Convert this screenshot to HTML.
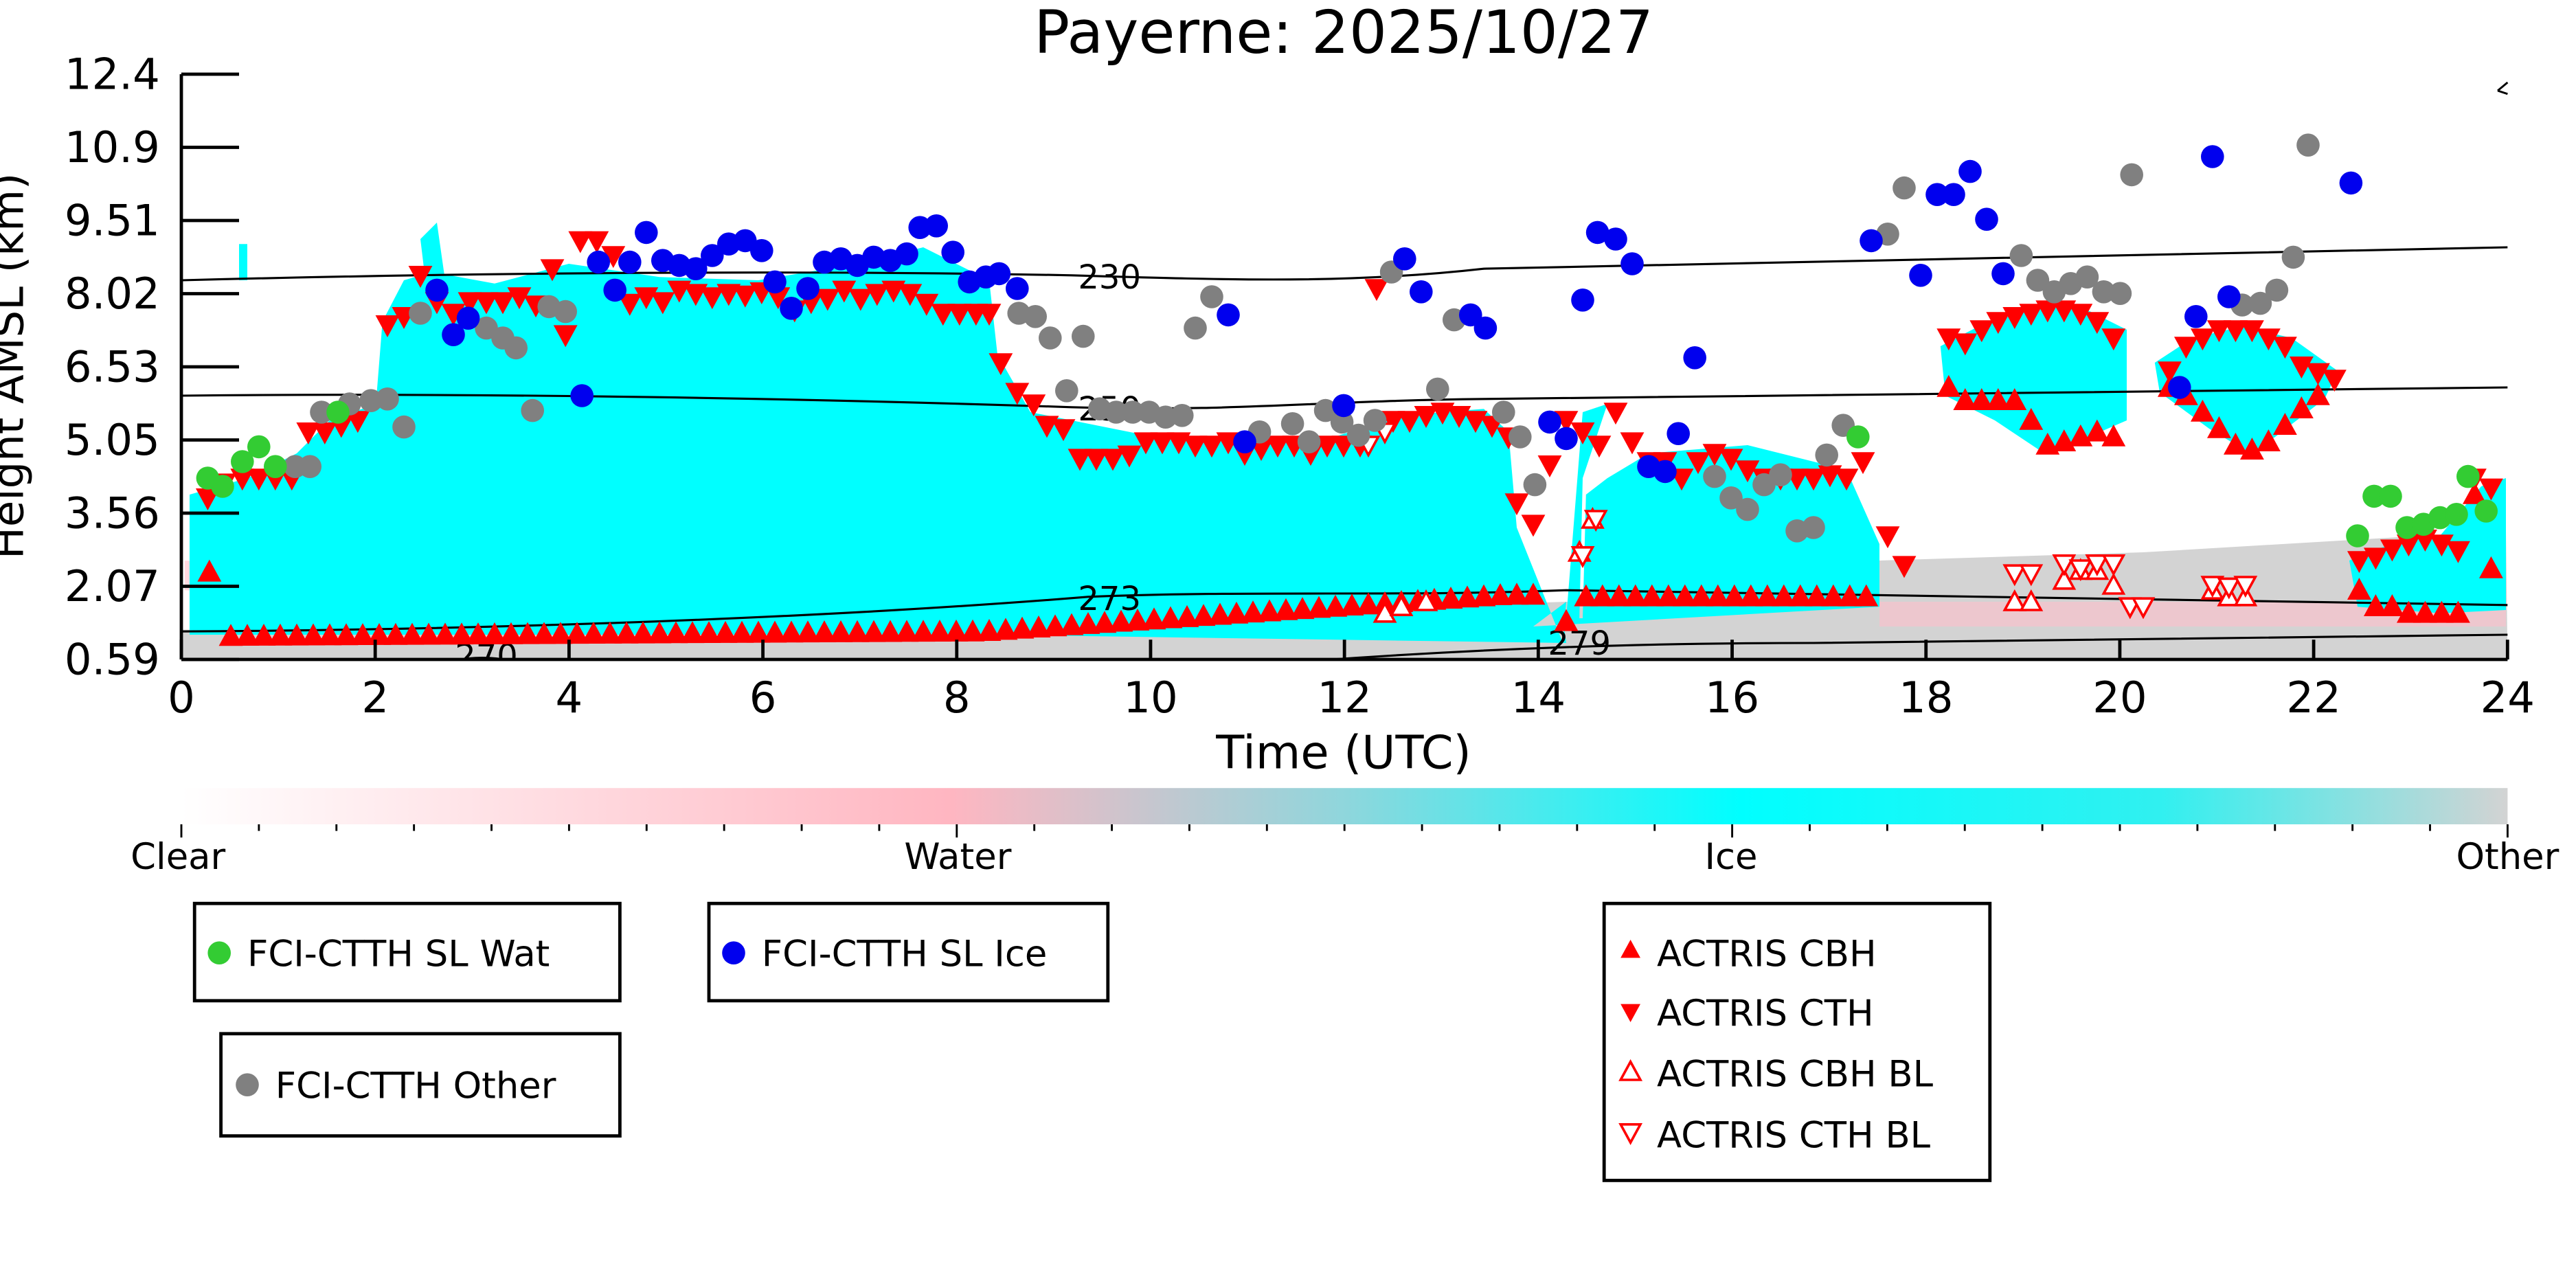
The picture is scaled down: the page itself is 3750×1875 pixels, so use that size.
<!DOCTYPE html>
<html><head><meta charset="utf-8">
<style>
html,body{margin:0;padding:0;background:#fff;}
svg{display:block;}
text{font-family:"DejaVu Sans","Liberation Sans",sans-serif;}
</style></head>
<body>
<svg id="s" width="3750" height="1875" viewBox="0 0 1562.5 781.25" xmlns="http://www.w3.org/2000/svg">
<defs>
<linearGradient id="cb" x1="0" x2="1" y1="0" y2="0">
<stop offset="0" stop-color="#ffffff"/>
<stop offset="0.33" stop-color="#ffb6c1"/>
<stop offset="0.5" stop-color="#8fd6dc"/>
<stop offset="0.67" stop-color="#00ffff"/>
<stop offset="0.85" stop-color="#30f0f0"/>
<stop offset="1" stop-color="#d3d3d3"/>
</linearGradient>
<clipPath id="pc"><rect x="110" y="45" width="1411" height="355"/></clipPath>
</defs>
<text x="815" y="32" font-size="36" text-anchor="middle">Payerne: 2025/10/27</text>
<g clip-path="url(#pc)" id="plot">
<polygon fill="#d3d3d3" points="110,382 400,382 660,375 800,370 950,365 1140,362 1140,340 1300,335 1520,322 1521,400 110,400"/>
<polygon fill="#ffc0cb" opacity="0.6" points="1140,365 1520,365 1520,380 1140,380"/>
<polygon fill="#ffc0cb" opacity="0.6" points="112,340 200,345 200,360 112,358"/>
<polygon fill="#00ffff" points="115,385 115,300 150,290 180,275 200,255 228,245 232,195 245,170 262,165 300,172 345,160 400,168 460,170 520,160 560,150 600,170 605,215 625,250 700,265 800,268 850,252 900,248 915,262 920,320 948,390 950,365 930,380 1140,368 1140,330 1120,285 1060,270 1000,275 975,290 962,300 960,375 948,375 950,390 600,385 400,385 250,385"/>
<polygon fill="#00ffff" points="950,375 960,250 975,245 960,290 958,375"/>
<polygon fill="#00ffff" points="1177,210 1200,198 1230,188 1260,185 1290,200 1290,255 1260,268 1240,275 1210,255 1180,240"/>
<polygon fill="#00ffff" points="1307,220 1330,205 1360,198 1390,205 1418,225 1410,242 1380,265 1365,275 1340,260 1310,238"/>
<polygon fill="#00ffff" points="1425,340 1450,330 1480,325 1505,295 1520,290 1520,370 1480,372 1430,368"/>
<polygon fill="#00ffff" points="255,145 265,135 270,170 258,170"/>
<polygon fill="#00ffff" points="145,148 150,148 150,170 145,170"/>
<g fill="none" stroke="#000" stroke-width="1.3">
<path d="M110,170 C300,165 500,164 650,167 C750,170 820,172 900,163 C1100,158 1300,155 1521,150"/>
<path d="M110,240 C300,238 500,242 650,247 C750,250 800,243 900,242 C1100,240 1300,238 1521,235"/>
<path d="M110,383 C300,382 500,375 660,362 C760,358 850,362 950,358 C1100,360 1300,365 1521,367"/>
<path d="M780,402 C900,393 1000,390 1100,390 C1300,388 1450,386 1521,385"/>
<path d="M270,402 C285,398 300,398 315,402"/>
</g>
<text x="673" y="175" font-size="20" text-anchor="middle">230</text>
<text x="673" y="255" font-size="20" text-anchor="middle">250</text>
<text x="673" y="370" font-size="20" text-anchor="middle">273</text>
<text x="958" y="397" font-size="20" text-anchor="middle">279</text>
<text x="295" y="405" font-size="20" text-anchor="middle">270</text>
<g id="pts"></g>
</g>
<g stroke="#000" stroke-width="2" fill="none">
<line x1="110" y1="45" x2="110" y2="400"/>
<line x1="110" y1="400" x2="1521" y2="400"/>
</g>
<g id="ax"></g>
<text x="815" y="466" font-size="28" text-anchor="middle">Time (UTC)</text>
<text transform="translate(14,222) rotate(-90)" font-size="26" text-anchor="middle">Height AMSL (km)</text>
<path d="M1515,55 l6,-5 M1515,55 l6,2" stroke="#000" stroke-width="1.2"/>
<rect x="110" y="478" width="1411" height="22" fill="url(#cb)"/>
<g id="cbt"></g>
<text x="108" y="527" font-size="22" text-anchor="middle">Clear</text>
<text x="581" y="527" font-size="22" text-anchor="middle">Water</text>
<text x="1050" y="527" font-size="22" text-anchor="middle">Ice</text>
<text x="1521" y="527" font-size="22" text-anchor="middle">Other</text>
<g stroke="#000" stroke-width="2" fill="#fff">
<rect x="118" y="548" width="258" height="59"/>
<rect x="430" y="548" width="242" height="59"/>
<rect x="134" y="627" width="242" height="62"/>
<rect x="973" y="548" width="234" height="168"/>
</g>
<circle cx="133" cy="578" r="7" fill="#33cc33"/><text x="150" y="586" font-size="22">FCI-CTTH SL Wat</text>
<circle cx="445" cy="578" r="7" fill="#0000ee"/><text x="462" y="586" font-size="22">FCI-CTTH SL Ice</text>
<circle cx="150" cy="658" r="7" fill="#808080"/><text x="167" y="666" font-size="22">FCI-CTTH Other</text>
<polygon points="989,570 995,581 983,581" fill="#f00"/><text x="1005" y="586" font-size="22">ACTRIS CBH</text>
<polygon points="983,609 995,609 989,620" fill="#f00"/><text x="1005" y="622" font-size="22">ACTRIS CTH</text>
<polygon points="989,644 995,655 983,655" fill="none" stroke="#f00" stroke-width="1.5"/><text x="1005" y="659" font-size="22">ACTRIS CBH BL</text>
<polygon points="983,682 995,682 989,693" fill="none" stroke="#f00" stroke-width="1.5"/><text x="1005" y="696" font-size="22">ACTRIS CTH BL</text>
</svg>
<script>
var NS="http://www.w3.org/2000/svg";
function el(p,t,a){var e=document.createElementNS(NS,t);for(var k in a)e.setAttribute(k,a[k]);p.appendChild(e);return e;}
var ax=document.getElementById("ax");
var yl=["12.4","10.9","9.51","8.02","6.53","5.05","3.56","2.07","0.59"];
for(var i=0;i<9;i++){var y=45+i*44.375;el(ax,"line",{x1:110,y1:y,x2:145,y2:y,stroke:"#000","stroke-width":2});
var t=el(ax,"text",{x:97,y:y+9,"font-size":26,"text-anchor":"end"});t.textContent=yl[i];}
for(var h=0;h<=24;h+=2){var x=110+h*58.79;el(ax,"line",{x1:x,y1:400,x2:x,y2:388,stroke:"#000","stroke-width":2});
var t=el(ax,"text",{x:x,y:432,"font-size":26,"text-anchor":"middle"});t.textContent=h;}
var cbt=document.getElementById("cbt");
for(var i=0;i<=30;i++){var x=110+i*1411/30;el(cbt,"line",{x1:x,y1:500,x2:x,y2:(i%10==0?508:504),stroke:"#000","stroke-width":1.2});}
var P=document.getElementById("pts");
function up(x,y,f){el(P,"polygon",{points:(x)+","+(y-6)+" "+(x+6)+","+(y+5)+" "+(x-6)+","+(y+5),fill:f?"#f00":"#fff",stroke:"#f00","stroke-width":1.5});}
function dn(x,y,f){el(P,"polygon",{points:(x-6)+","+(y-5)+" "+(x+6)+","+(y-5)+" "+(x)+","+(y+6),fill:f?"#f00":"#fff",stroke:"#f00","stroke-width":1.5});}
for(var x=140;x<=935;x+=10){var y=x<600?386-(x-140)*0.006:383-(x-600)*0.07;if(y<361)y=361;up(x,y,true);}
up(127,347,true);up(950,377,true);
for(var x=962;x<=1140;x+=10)up(x,362,true);
var tops=[[126,302],[136,293],[147,290],[157,290],[167,290],[177,290],[187,262],[197,262],[207,258],[217,255],[235,197],[245,192],[255,167],[265,183],[275,190],[285,183],[295,183],[305,183],[315,180],[325,185],[335,163],[343,203],[352,146],[362,146],[372,155],[382,184],[392,180],[402,183],[412,176],[422,178],[432,180],[442,178],[452,179],[462,177],[472,180],[482,188],[492,183],[502,181],[512,176],[522,181],[532,178],[542,176],[552,178],[562,184],[572,190],[582,190],[592,190],[600,190],[607,220],[617,238],[627,245],[635,258],[645,260],[655,278],[665,278],[675,278],[685,276],[695,268],[705,268],[715,268],[725,270],[735,270],[745,268],[755,275],[765,272],[775,270],[785,270],[795,275],[805,270],[815,270],[825,270],[835,175],[845,255],[855,255],[865,252],[875,250],[885,252],[895,255],[905,258],[915,265],[920,305],[930,318],[940,282],[950,255],[960,262],[970,270],[980,250],[990,268],[1000,280],[1010,280],[1020,290],[1030,280],[1040,275],[1050,278],[1060,285],[1070,290],[1080,290],[1090,290],[1100,290],[1110,288],[1120,290],[1130,280],[1145,325],[1155,343],[1182,205],[1192,208],[1202,200],[1212,195],[1222,192],[1232,190],[1242,188],[1252,188],[1262,190],[1272,195],[1282,205],[1316,225],[1326,210],[1336,205],[1346,200],[1356,200],[1366,200],[1376,205],[1386,210],[1396,222],[1406,226],[1416,230],[1431,340],[1441,338],[1451,333],[1461,330],[1471,327],[1481,330],[1491,334],[1501,290],[1511,296]];
tops.forEach(function(p){dn(p[0],p[1],true);});
[[1182,235],[1192,243],[1202,243],[1212,243],[1222,243],[1232,255],[1242,270],[1252,268],[1262,265],[1272,262],[1282,265],[1316,235],[1326,240],[1336,250],[1346,260],[1356,270],[1366,273],[1376,268],[1386,258],[1396,248],[1406,240],[1431,358],[1441,368],[1451,368],[1461,372],[1471,372],[1481,372],[1491,372],[1501,300],[1511,345]].forEach(function(p){up(p[0],p[1],true);});
[[840,372],[850,368],[865,365],[958,335],[966,315],[1222,365],[1232,365],[1252,352],[1262,346],[1272,346],[1282,355],[1342,358],[1352,362],[1362,362]].forEach(function(p){up(p[0],p[1],false);});
[[830,270],[840,262],[960,337],[968,315],[1222,348],[1232,348],[1252,342],[1262,345],[1272,342],[1282,342],[1292,368],[1342,355],[1352,356],[1362,355],[1300,368]].forEach(function(p){dn(p[0],p[1],false);});
function c(arr,f){arr.forEach(function(p){el(P,"circle",{cx:p[0],cy:p[1],r:7,fill:f});});}
c([[179,283],[188,283],[195,250],[212,245],[225,243],[235,242],[245,259],[255,190],[295,199],[305,205],[313,211],[323,249],[333,186],[343,189],[618,190],[628,192],[637,205],[657,204],[647,237],[667,248],[677,250],[687,250],[697,250],[707,253],[717,252],[725,199],[735,180],[764,262],[784,257],[794,268],[804,249],[814,256],[824,264],[834,255],[844,165],[872,236],[882,194],[912,250],[922,265],[931,294],[1040,289],[1050,302],[1060,309],[1070,294],[1080,288],[1090,322],[1100,320],[1108,276],[1118,258],[1145,142],[1155,114],[1226,155],[1236,170],[1246,177],[1256,172],[1266,168],[1276,177],[1286,178],[1293,106],[1360,185],[1371,184],[1381,176],[1391,156],[1400,88]],"#808080");
c([[265,176],[275,203],[284,193],[353,240],[363,159],[373,176],[382,159],[392,141],[402,158],[412,161],[422,163],[432,155],[442,148],[452,146],[462,152],[470,171],[480,187],[490,175],[500,159],[510,157],[520,161],[530,156],[540,158],[550,154],[558,138],[568,137],[578,153],[588,171],[598,168],[606,166],[617,175],[745,191],[755,268],[815,246],[852,157],[862,177],[892,191],[901,199],[940,256],[950,266],[960,182],[969,141],[980,145],[990,160],[1000,283],[1010,286],[1018,263],[1028,217],[1135,146],[1165,167],[1175,118],[1185,118],[1195,104],[1205,133],[1215,166],[1322,235],[1332,192],[1342,95],[1352,180],[1426,111]],"#0000ee");
c([[126,290],[135,295],[147,280],[157,271],[167,283],[205,250],[1127,265],[1430,325],[1440,301],[1450,301],[1460,320],[1470,318],[1480,314],[1490,312],[1497,289],[1508,310]],"#33cc33");
</script>
</body></html>
